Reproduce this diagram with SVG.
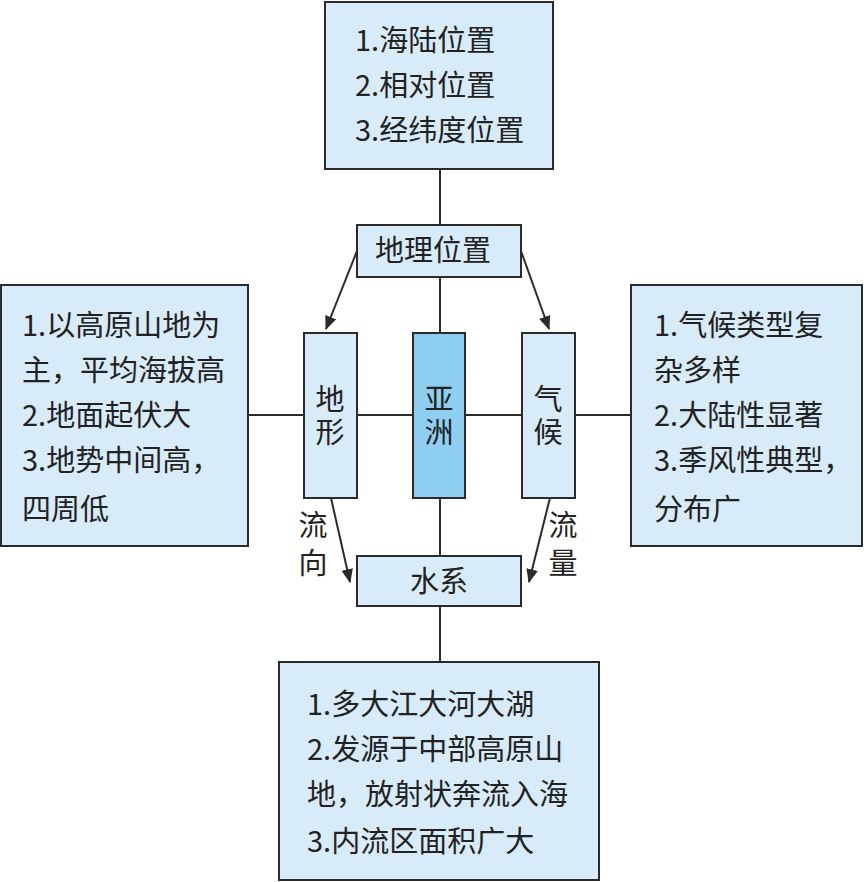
<svg xmlns="http://www.w3.org/2000/svg" width="864" height="882" viewBox="0 0 864 882">
<defs>
<style>
.box{fill:#d8ebf9;stroke:#2b2b2b;stroke-width:2}
.core{fill:#8ecff1;stroke:#2b2b2b;stroke-width:2}
.ln{stroke:#2b2b2b;stroke-width:2;fill:none}
text{font-family:"Noto Sans CJK SC","Noto Sans",sans-serif;font-size:29px;fill:#222}
.c{text-anchor:middle}
.v{writing-mode:vertical-rl;text-anchor:middle;letter-spacing:4px}
.lab{writing-mode:vertical-rl;text-anchor:middle;letter-spacing:9px}
</style>
<marker id="ah2" viewBox="0 0 12 10" refX="11" refY="5" markerWidth="14" markerHeight="12" orient="auto" markerUnits="userSpaceOnUse">
<path d="M0,0 L12,5 L0,10 z" fill="#2b2b2b"/>
</marker>
</defs>
<rect width="864" height="882" fill="#fff"/>
<g id="connectors">
<line class="ln" x1="440" y1="169" x2="440" y2="225"/>
<line class="ln" x1="440" y1="277" x2="440" y2="333"/>
<line class="ln" x1="440" y1="498" x2="440" y2="556"/>
<line class="ln" x1="440" y1="606" x2="440" y2="662"/>
<line class="ln" x1="248" y1="415" x2="304" y2="415"/>
<line class="ln" x1="357" y1="415" x2="413" y2="415"/>
<line class="ln" x1="465" y1="415" x2="522" y2="415"/>
<line class="ln" x1="575" y1="415" x2="631" y2="415"/>
<line class="ln" x1="357" y1="251" x2="326" y2="329" marker-end="url(#ah2)"/>
<line class="ln" x1="521" y1="251" x2="549" y2="329" marker-end="url(#ah2)"/>
<line class="ln" x1="331" y1="498" x2="350" y2="582" marker-end="url(#ah2)"/>
<line class="ln" x1="550" y1="498" x2="529" y2="582" marker-end="url(#ah2)"/>
<text x="313" y="548" class="lab">流向</text>
<text x="563" y="548" class="lab">流量</text>
</g>
<g id="top">
<rect class="box" x="325" y="2" width="228" height="167"/>
<text x="355" y="51">1.海陆位置</text>
<text x="355" y="96">2.相对位置</text>
<text x="355" y="141">3.经纬度位置</text>
</g>
<g id="dili">
<rect class="box" x="357" y="225" width="164" height="52"/>
<text x="433" y="261" class="c">地理位置</text>
</g>
<g id="dixing">
<rect class="box" x="304" y="333" width="53" height="165"/>
<text x="330" y="417" class="v">地形</text>
</g>
<g id="yazhou">
<rect class="core" x="413" y="333" width="52" height="165"/>
<text x="439" y="417" class="v">亚洲</text>
</g>
<g id="qihou">
<rect class="box" x="522" y="333" width="53" height="165"/>
<text x="548" y="417" class="v">气候</text>
</g>
<g id="left">
<rect class="box" x="1" y="285" width="247" height="261"/>
<text x="22" y="336">1.以高原山地为</text>
<text x="22" y="381">主，平均海拔高</text>
<text x="22" y="426">2.地面起伏大</text>
<text x="22" y="471">3.地势中间高，</text>
<text x="22" y="520">四周低</text>
</g>
<g id="right">
<rect class="box" x="631" y="285" width="231" height="261"/>
<text x="654" y="336">1.气候类型复</text>
<text x="654" y="381">杂多样</text>
<text x="654" y="426">2.大陆性显著</text>
<text x="654" y="471">3.季风性典型，</text>
<text x="654" y="520">分布广</text>
</g>
<g id="shuixi">
<rect class="box" x="357" y="556" width="164" height="50"/>
<text x="439" y="592" class="c">水系</text>
</g>
<g id="bottom">
<rect class="box" x="279" y="662" width="320" height="218"/>
<text x="307" y="715">1.多大江大河大湖</text>
<text x="307" y="760">2.发源于中部高原山</text>
<text x="307" y="805">地，放射状奔流入海</text>
<text x="307" y="852">3.内流区面积广大</text>
</g>
</svg>
